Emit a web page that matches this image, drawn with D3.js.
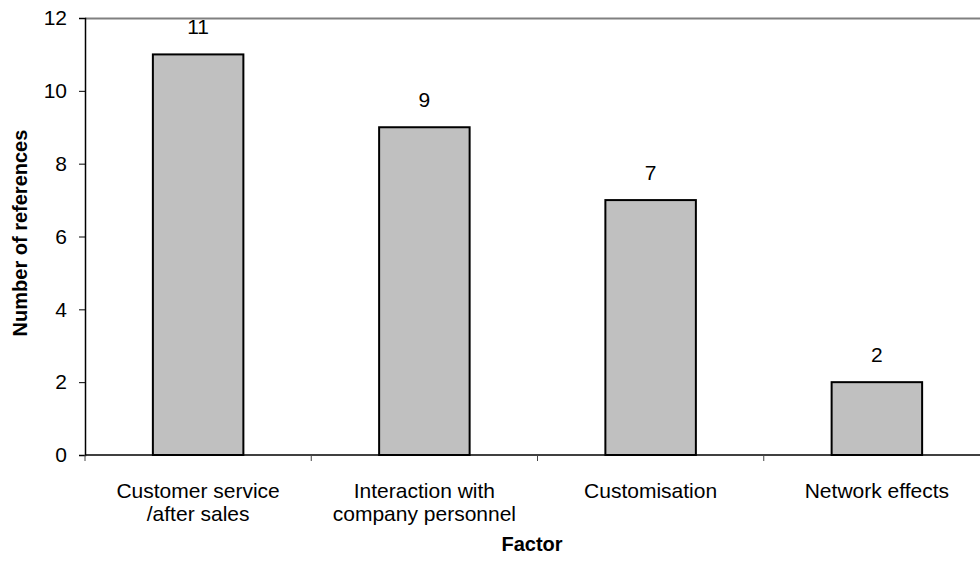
<!DOCTYPE html>
<html><head><meta charset="utf-8">
<script src="https://cdn.jsdelivr.net/npm/d3@7"></script>
<style>body{margin:0;background:#fff}svg{display:block;font-family:"Liberation Sans",Arial,sans-serif}</style>
</head><body>
<svg id="c" width="980" height="562"></svg>
<script>
const categories = [["Customer service","/after sales"],["Interaction with","company personnel"],["Customisation"],["Network effects"]];
const values = [11, 9, 7, 2];
const yTicks = [0, 2, 4, 6, 8, 10, 12];

(function(){
const svg = d3.select("#c");
const mLeft = 85, mRight = 990, mTop = 18, mBottom = 455;
const ids = d3.range(categories.length);
const x = d3.scaleBand().domain(ids).range([mLeft, mRight]).paddingInner(0.6).paddingOuter(0.3);
const y = d3.scaleLinear().domain([0, 12]).range([mBottom, mTop]);

// top border (gray)
svg.append("line").attr("x1", mLeft).attr("x2", mRight).attr("y1", mTop + 0.5).attr("y2", mTop + 0.5)
  .attr("stroke", "#808080").attr("stroke-width", 2);

// bars
svg.selectAll("rect.bar").data(values).join("rect")
  .attr("x", (d, i) => x(i)).attr("y", d => y(d))
  .attr("width", x.bandwidth()).attr("height", d => y(0) - y(d))
  .attr("fill", "#c0c0c0").attr("stroke", "#000").attr("stroke-width", 2);

// value labels
svg.selectAll("text.val").data(values).join("text")
  .attr("x", (d, i) => x(i) + x.bandwidth() / 2).attr("y", d => y(d) - 20)
  .attr("text-anchor", "middle").attr("font-size", 21).attr("fill", "#000").text(d => d);

// y axis
const yAxis = d3.axisLeft(y).tickValues(yTicks).tickSize(6).tickPadding(12);
const gy = svg.append("g").attr("transform", `translate(${mLeft},0)`).call(yAxis);
gy.select(".domain").attr("stroke", "#000").attr("stroke-width", 1.5);
gy.selectAll(".tick line").attr("stroke", "#000");
gy.selectAll("text").attr("font-size", 21).attr("fill", "#000").attr("font-family", "Liberation Sans, Arial, sans-serif");

// x axis baseline
svg.append("line").attr("x1", mLeft).attr("x2", mRight).attr("y1", mBottom).attr("y2", mBottom)
  .attr("stroke", "#000").attr("stroke-width", 1.5);
// separator ticks
const seps = ids.map(i => x(i) - x.step() * 0.3).concat([x(ids.length - 1) + x.bandwidth() + x.step() * 0.3]);
svg.selectAll("line.sep").data(seps).join("line")
  .attr("x1", d => d).attr("x2", d => d).attr("y1", mBottom).attr("y2", mBottom + 6)
  .attr("stroke", "#444").attr("stroke-width", 1);

// category labels
const cl = svg.selectAll("text.cat").data(categories).join("text")
  .attr("text-anchor", "middle").attr("font-size", 21).attr("fill", "#000");
cl.each(function(d, i) {
  d3.select(this).selectAll("tspan").data(d).join("tspan")
    .attr("x", x(i) + x.bandwidth() / 2).attr("y", (t, j) => 498 + j * 23).text(t => t);
});

// axis titles
svg.append("text").attr("x", 532).attr("y", 551).attr("text-anchor", "middle")
  .attr("font-size", 20).attr("font-weight", "bold").text("Factor");
svg.append("text").attr("transform", `translate(27,233) rotate(-90)`)
  .attr("text-anchor", "middle").attr("font-size", 20).attr("font-weight", "bold").text("Number of references");
})();
</script>
</body></html>
